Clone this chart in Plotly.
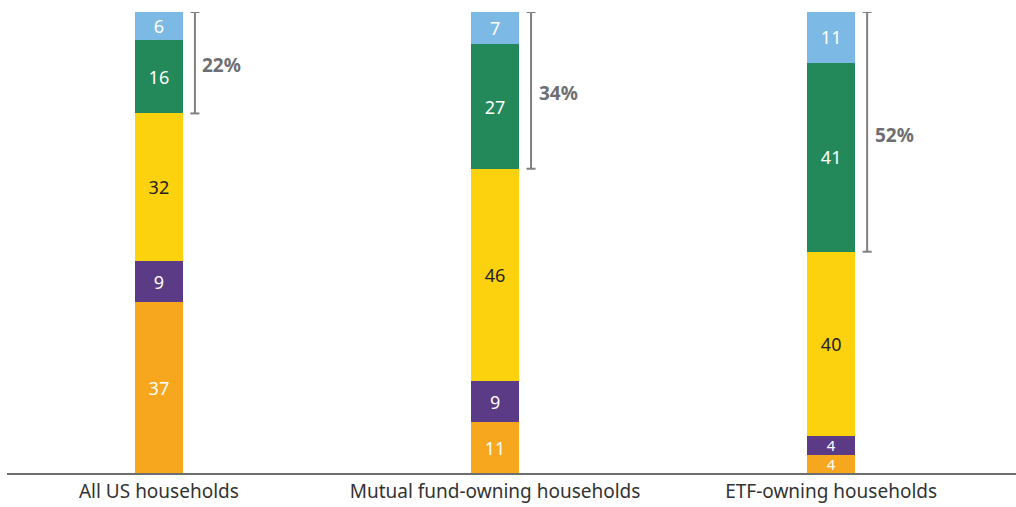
import plotly.graph_objects as go

categories = ["All US households", "Mutual fund-owning households", "ETF-owning households"]
seg_orange = [37, 11, 4]
seg_purple = [9, 9, 4]
seg_yellow = [32, 46, 40]
seg_green = [16, 27, 41]
seg_blue = [6, 7, 11]
bracket_labels = ["22%", "34%", "52%"]

series = [
    (seg_orange, "#F7A71E", "white"),
    (seg_purple, "#5B3A86", "white"),
    (seg_yellow, "#FCD20E", "#231F20"),
    (seg_green, "#23895B", "white"),
    (seg_blue, "#7DB9E5", "white"),
]

xpos = list(range(len(categories)))
fig = go.Figure()
for vals, color, tcolor in series:
    sizes = [18 if v >= 5 else 15 for v in vals]
    fig.add_trace(go.Bar(
        x=xpos, y=vals, marker=dict(color=color, line=dict(width=0)),
        width=0.143, text=[str(v) for v in vals], textposition="inside",
        insidetextanchor="middle", textangle=0, constraintext="none",
        textfont=dict(color=tcolor, size=sizes, family="Noto Sans"),
        showlegend=False, hoverinfo="skip",
    ))

px_per_unit = 336.0
bx = 36 / px_per_unit
cap = 4.5 / px_per_unit
lx = 63 / px_per_unit
shapes = []
annotations = []
for i in xpos:
    top = seg_orange[i] + seg_purple[i] + seg_yellow[i] + seg_green[i] + seg_blue[i]
    low = top - seg_green[i] - seg_blue[i]
    lc = dict(color="#808080", width=2)
    shapes.append(dict(type="line", xref="x", yref="y", x0=i + bx, x1=i + bx, y0=low, y1=top, line=lc))
    shapes.append(dict(type="line", xref="x", yref="y", x0=i + bx - cap, x1=i + bx + cap, y0=top, y1=top, line=lc))
    shapes.append(dict(type="line", xref="x", yref="y", x0=i + bx - cap, x1=i + bx + cap, y0=low, y1=low, line=lc))
    annotations.append(dict(x=i + lx, y=(top + low) / 2 - 0.6, xref="x", yref="y", text="<b>%s</b>" % bracket_labels[i],
                            showarrow=False, xanchor="center", yanchor="middle",
                            font=dict(size=19, color="#6D6E71", family="Noto Sans")))

fig.update_layout(
    barmode="stack", width=1016, height=507,
    margin=dict(l=7, r=0, t=12, b=34),
    paper_bgcolor="white", plot_bgcolor="white",
    shapes=shapes, annotations=annotations,
    xaxis=dict(tickmode="array", tickvals=xpos, ticktext=categories, range=[-0.452, 2.55],
               showline=True, linecolor="#6D6E71", linewidth=1.5, showgrid=False, zeroline=False,
               ticks="", tickfont=dict(size=19, color="#333333", family="Noto Sans")),
    yaxis=dict(range=[0, 100], visible=False, showgrid=False, zeroline=False),
)
fig.write_html("out.html", config={"displayModeBar": False},
               post_script="document.body.style.margin='0';document.body.style.padding='0';")
